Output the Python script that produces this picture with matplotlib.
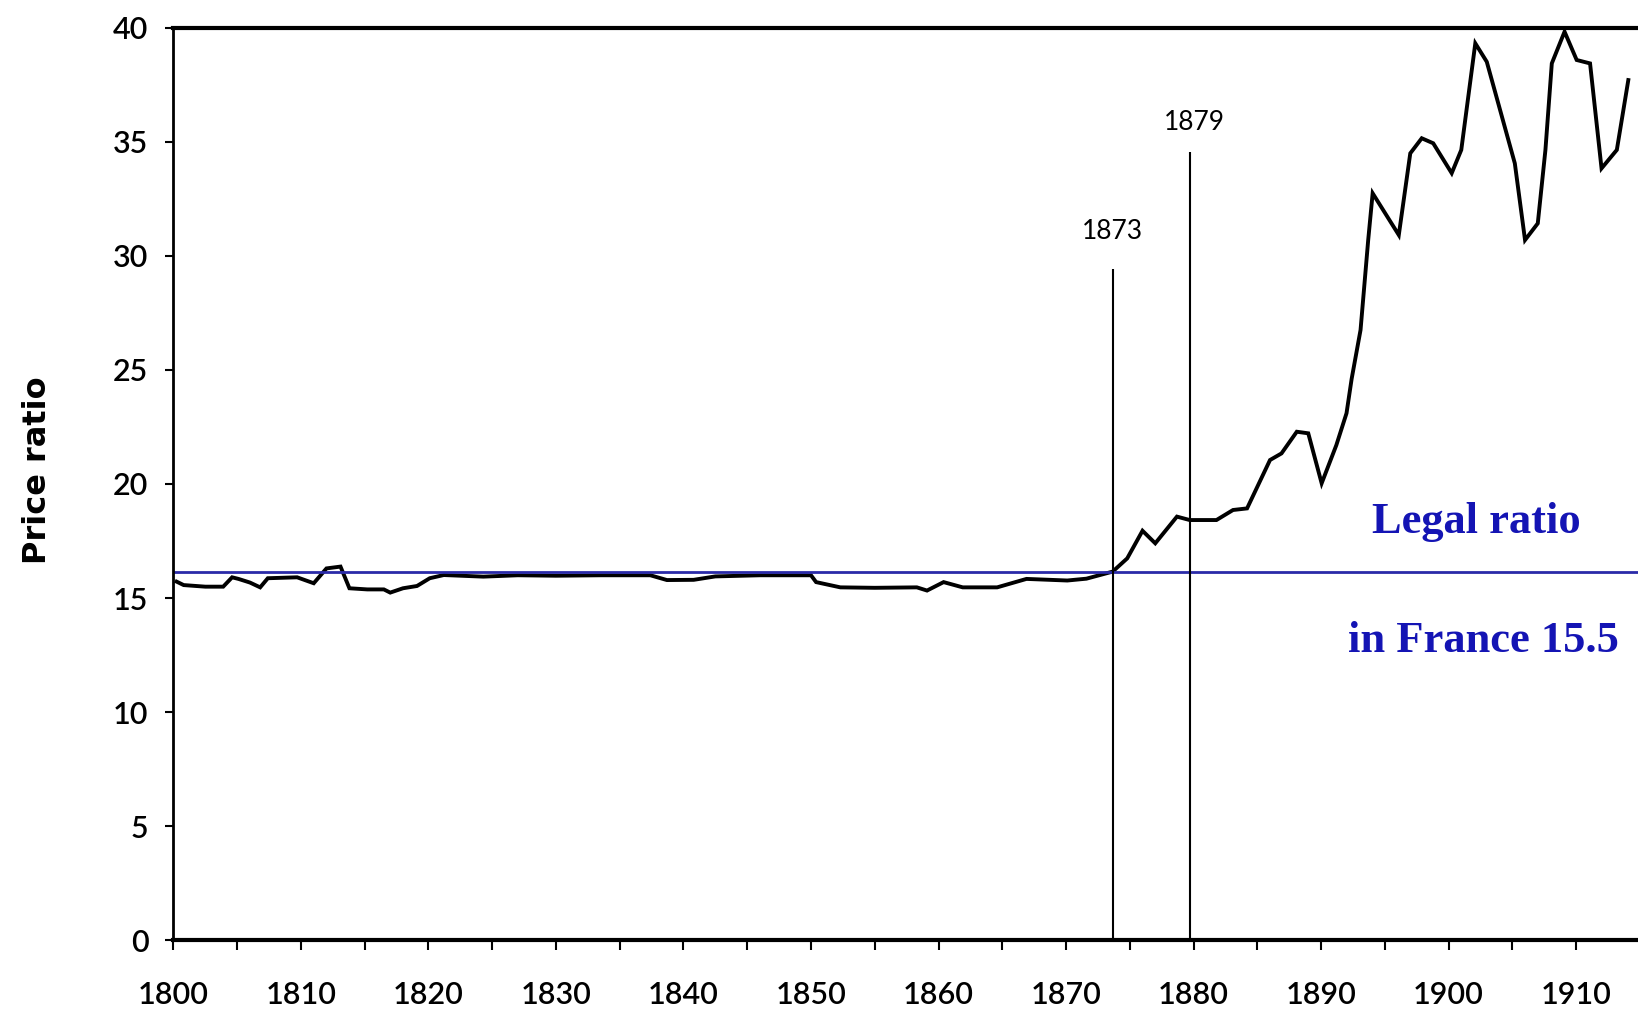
import matplotlib
matplotlib.use("Agg")
import matplotlib.pyplot as plt

# gold/silver price ratio
years = [1800.25, 1800.8, 1802.5, 1803.9, 1804.6, 1805.1, 1806.0, 1806.8, 1807.4,
         1809.7, 1811.0, 1812.0, 1813.1, 1813.8, 1815.2, 1816.5, 1817.0, 1818.0,
         1819.1, 1820.1, 1821.2, 1824.3, 1827.0, 1830.0, 1833.5, 1837.4, 1838.7,
         1840.8, 1842.5, 1846.0, 1850.0, 1850.4, 1852.3, 1855.0, 1858.3, 1859.1,
         1860.4, 1861.9, 1864.6, 1866.9, 1870.1, 1871.6, 1873.66, 1874.8, 1876.0,
         1877.0, 1878.7, 1879.7, 1881.8, 1883.1, 1884.2, 1886.0, 1886.9, 1888.1,
         1889.0, 1890.05, 1891.2, 1892.0, 1892.4, 1893.1, 1893.7, 1894.05, 1896.1,
         1897.0, 1897.9, 1898.8, 1900.25, 1901.0, 1902.1, 1903.0, 1905.2, 1906.0,
         1907.0, 1907.6, 1908.1, 1909.1, 1910.05, 1911.1, 1912.0, 1913.2, 1914.1]
ratio = [15.72, 15.57, 15.5, 15.5, 15.91, 15.84, 15.68, 15.47, 15.87,
         15.91, 15.65, 16.3, 16.38, 15.43, 15.38, 15.38, 15.24, 15.43,
         15.53, 15.87, 16.01, 15.94, 16.0, 15.98, 16.0, 16.0, 15.79,
         15.8, 15.95, 16.0, 16.0, 15.7, 15.47, 15.45, 15.47, 15.33,
         15.7, 15.47, 15.47, 15.84, 15.77, 15.85, 16.16, 16.74, 17.95,
         17.4, 18.57, 18.42, 18.42, 18.86, 18.93, 21.05, 21.34, 22.29,
         22.22, 20.03, 21.7, 23.1, 24.6, 26.75, 30.69, 32.74, 30.91,
         34.49, 35.15, 34.93, 33.62, 34.64, 39.31, 38.5, 34.05, 30.69,
         31.42, 34.64, 38.43, 39.82, 38.58, 38.43, 33.83, 34.64, 37.7]

legal_ratio = 16.16
marker_years = [1873.66, 1879.7]
marker_tops = [29.4, 34.56]
marker_labels = ["1873", "1879"]
marker_label_pos = [(1873.66, 31.06), (1880.1, 35.84)]

xticks = list(range(1800, 1915, 5))
xlabels = [str(y) if y % 10 == 0 else "" for y in xticks]
yticks = list(range(0, 41, 5))

fig = plt.figure(figsize=(16.38, 10.14), dpi=100)
ax = fig.add_axes([0.1059, 0.0726, 0.8941, 0.9002])

ax.plot(years, ratio, color="black", linewidth=2.8, solid_joinstyle="miter")
ax.axhline(legal_ratio, color="#2a2aa8", linewidth=2)
ax.vlines(marker_years, 0, marker_tops, color="black", linewidth=1.5)

for lab, (x, y) in zip(marker_labels, marker_label_pos):
    ax.text(x, y, lab, ha="center", va="center", fontsize=19, family="Lato")

ax.text(1902.2, 17.84, "Legal ratio", ha="center", va="baseline",
        fontsize=32, fontweight="bold", family="Liberation Serif", color="#1414b4")
ax.text(1902.7, 12.65, "in France 15.5", ha="center", va="baseline",
        fontsize=32, fontweight="bold", family="Liberation Serif", color="#1414b4")

ax.set_xlim(1800, 1914.86)
ax.set_ylim(0, 40)
ax.set_xticks(xticks)
ax.set_xticklabels(xlabels)
ax.set_yticks(yticks)

for lab in ax.get_xticklabels() + ax.get_yticklabels():
    lab.set_family("Lato")
    lab.set_fontsize(22)
    lab.set_fontweight("semibold")

ax.tick_params(axis="x", direction="out", length=7, width=1.5, pad=22)
ax.tick_params(axis="y", direction="out", length=6, width=1.5, pad=12)

ax.spines["right"].set_visible(False)
ax.spines["left"].set_linewidth(2)
ax.spines["bottom"].set_linewidth(3)
ax.spines["top"].set_linewidth(3)

fig.text(0.023, 0.536, "Price ratio", rotation=90, ha="center", va="center",
         fontsize=23, fontweight="bold", family="DejaVu Sans")

fig.savefig("out.png", dpi=100, facecolor="white")
